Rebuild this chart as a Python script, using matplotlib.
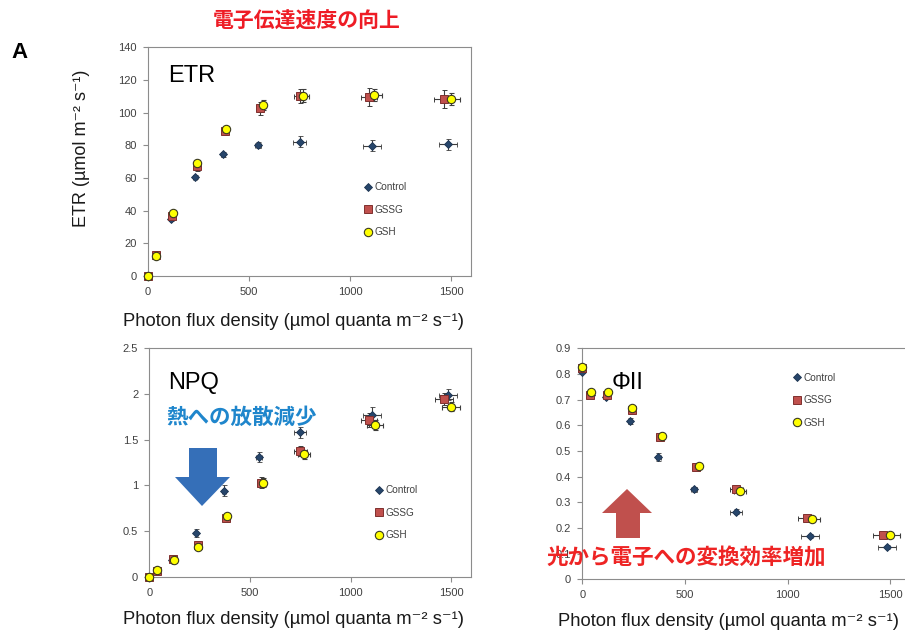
import matplotlib
matplotlib.use("Agg")
import matplotlib.pyplot as plt
from matplotlib.patches import Polygon
from matplotlib.ticker import FuncFormatter

plt.rcParams['font.family'] = ['Liberation Sans', 'DejaVu Sans']

JP = ['Noto Sans CJK JP', 'DejaVu Sans']

# photon flux density for each treatment (umol quanta m-2 s-1)
pfd_control = [0, 40, 115, 233, 371, 546, 750, 1108, 1485]
pfd_gssg = [0, 38, 118, 241, 380, 556, 751, 1092, 1463]
pfd_gsh = [0, 40, 123, 244, 386, 567, 768, 1120, 1500]
pfd_err_control = [0, 2, 4, 8, 10, 15, 30, 45, 45]
pfd_err_gssg = [0, 2, 4, 8, 10, 15, 30, 40, 45]
pfd_err_gsh = [0, 2, 4, 8, 10, 15, 30, 40, 45]

etr_control = [0, 12.5, 34.9, 60.6, 74.5, 80.2, 82.2, 79.8, 80.6]
etr_gssg = [0, 12.9, 37.0, 67.3, 89.0, 102.7, 110.2, 109.8, 108.2]
etr_gsh = [0, 12.4, 38.4, 69.2, 89.8, 104.5, 110.4, 110.8, 108.4]
etr_err_control = [0, 0.5, 1.5, 1.5, 1.5, 2, 3.5, 3.5, 3.5]
etr_err_gssg = [0, 1, 2, 3, 2.5, 4, 4.5, 5.5, 5.5]
etr_err_gsh = [0, 1, 1.5, 2, 2, 3, 4, 3.5, 3.5]

npq_control = [0, 0.07, 0.18, 0.48, 0.94, 1.31, 1.58, 1.77, 1.99]
npq_gssg = [0, 0.066, 0.19, 0.35, 0.646, 1.03, 1.376, 1.715, 1.945]
npq_gsh = [0, 0.073, 0.18, 0.33, 0.66, 1.03, 1.34, 1.66, 1.86]
npq_err_control = [0, 0.01, 0.02, 0.04, 0.06, 0.05, 0.06, 0.09, 0.06]
npq_err_gssg = [0, 0.01, 0.02, 0.02, 0.04, 0.06, 0.06, 0.08, 0.07]
npq_err_gsh = [0, 0.01, 0.02, 0.02, 0.04, 0.05, 0.05, 0.05, 0.05]

phi_control = [0.809, 0.72, 0.712, 0.617, 0.476, 0.350, 0.263, 0.170, 0.127]
phi_gssg = [0.822, 0.718, 0.718, 0.658, 0.553, 0.438, 0.350, 0.240, 0.173]
phi_gsh = [0.826, 0.728, 0.728, 0.666, 0.557, 0.440, 0.343, 0.236, 0.173]
phi_err_control = [0.005, 0.005, 0.008, 0.01, 0.015, 0.01, 0.01, 0.008, 0.008]
phi_err_gssg = [0.005, 0.005, 0.008, 0.01, 0.01, 0.01, 0.01, 0.01, 0.008]
phi_err_gsh = [0.005, 0.005, 0.008, 0.01, 0.01, 0.01, 0.01, 0.01, 0.008]

W, H = 905, 639
fig = plt.figure(figsize=(W / 100, H / 100), dpi=100)


def px(x, y):
    # pixel position (from top-left) -> figure fraction
    return x / W, 1 - y / H


def add_axes(left, top, right, bottom):
    return fig.add_axes([left / W, 1 - bottom / H, (right - left) / W, (bottom - top) / H])


styles = [
    ('Control', dict(marker='D', ms=4.2, mfc='#27466b', mec='#1c3350', mew=0.6)),
    ('GSSG', dict(marker='s', ms=5.5, mfc='#c0504d', mec='#7f302e', mew=0.7)),
    ('GSH', dict(marker='o', ms=6.0, mfc='#ffff00', mec='#3a3a20', mew=0.8)),
]


def panel(ax, ys, yerrs, ymax, ystep, leg_anchor):
    xs = [pfd_control, pfd_gssg, pfd_gsh]
    xerrs = [pfd_err_control, pfd_err_gssg, pfd_err_gsh]
    handles = []
    for (name, st), x, y, xe, ye in zip(styles, xs, ys, xerrs, yerrs):
        eb = ax.errorbar(x, y, xerr=xe, yerr=ye, ls='none', ecolor='#3d3d3d',
                         elinewidth=0.8, capsize=1.8, capthick=0.8, clip_on=False,
                         zorder=3, label=name, **st)
        handles.append(eb.lines[0])
    ax.set_xlim(0, 1600)
    ax.set_ylim(0, ymax)
    ax.set_xticks([0, 500, 1000, 1500])
    n = int(round(ymax / ystep))
    ax.set_yticks([i * ystep for i in range(n + 1)])
    ax.yaxis.set_major_formatter(FuncFormatter(lambda v, p: f"{round(v, 3):g}"))
    for s in ax.spines.values():
        s.set_color('#8c8c8c')
        s.set_linewidth(0.8)
    ax.tick_params(direction='out', length=3.5, width=0.8, color='#8c8c8c',
                   labelsize=8, labelcolor='#404040', pad=4.5)
    ax.legend(handles, [s[0] for s in styles], loc='center left',
              bbox_to_anchor=leg_anchor, frameon=False, fontsize=7.2,
              handlelength=0.8, handletextpad=0.3, borderpad=0, borderaxespad=0,
              labelspacing=1.25, numpoints=1, labelcolor='#404040')


xlabel = 'Photon flux density (µmol quanta m⁻² s⁻¹)'

# ETR
ax1 = add_axes(148, 47.3, 471.2, 276)
panel(ax1, [etr_control, etr_gssg, etr_gsh],
      [etr_err_control, etr_err_gssg, etr_err_gsh], 140, 20, (0.668, 0.289))
fig.text(*px(168, 76), 'ETR', fontsize=17, va='center', ha='left')
fig.text(*px(82, 148), 'ETR (µmol m⁻² s⁻¹)',
         fontsize=13, rotation=90, ha='center', va='center', color='#1a1a1a')
fig.text(*px(293, 321), xlabel, fontsize=13.2, ha='center', va='center', color='#1a1a1a')

# NPQ
ax2 = add_axes(149.3, 348.3, 471.4, 576.7)
panel(ax2, [npq_control, npq_gssg, npq_gsh],
      [npq_err_control, npq_err_gssg, npq_err_gsh], 2.5, 0.5, (0.7007, 0.279))
fig.text(*px(168, 383), 'NPQ', fontsize=17, va='center', ha='left')
fig.text(*px(293, 620), xlabel, fontsize=13.2, ha='center', va='center', color='#1a1a1a')

# PhiII
ax3 = add_axes(582.3, 348.3, 910.8, 579.3)
panel(ax3, [phi_control, phi_gssg, phi_gsh],
      [phi_err_control, phi_err_gssg, phi_err_gsh], 0.9, 0.1, (0.6414, 0.776))
fig.text(*px(612, 383), 'ΦII', fontsize=17, va='center', ha='left')
fig.text(*px(728, 622), xlabel, fontsize=13.2, ha='center', va='center', color='#1a1a1a')

# panel letter and headline
fig.text(*px(19, 52), 'A', fontsize=16, fontweight='bold', ha='center', va='center')
fig.text(*px(307, 20), '電子伝達速度の向上', family=JP, fontsize=15, fontweight='bold',
         color='#ee1c25', ha='center', va='center')

# blue arrow: less heat dissipation
blue = [px(189, 448), px(217, 448), px(217, 477), px(230, 477), px(202, 506),
        px(175, 477), px(189, 477)]
fig.patches.append(Polygon(blue, closed=True, transform=fig.transFigure,
                           facecolor='#356fb8', edgecolor='none', zorder=5))
fig.text(*px(242, 417), '熱への放散減少', family=JP, fontsize=15.5, fontweight='bold',
         color='#1f86cc', ha='center', va='center', zorder=6)

# red arrow: better light-to-electron conversion
red = [px(616, 538), px(640, 538), px(640, 513), px(652, 513), px(627, 489),
       px(602, 513), px(616, 513)]
fig.patches.append(Polygon(red, closed=True, transform=fig.transFigure,
                           facecolor='#c0504d', edgecolor='none', zorder=5))
fig.text(*px(686, 558), '光から電子への変換効率増加', family=JP, fontsize=15.5,
         fontweight='bold', color='#ee2424', ha='center', va='center', zorder=6)

fig.savefig('out.png', dpi=100)
